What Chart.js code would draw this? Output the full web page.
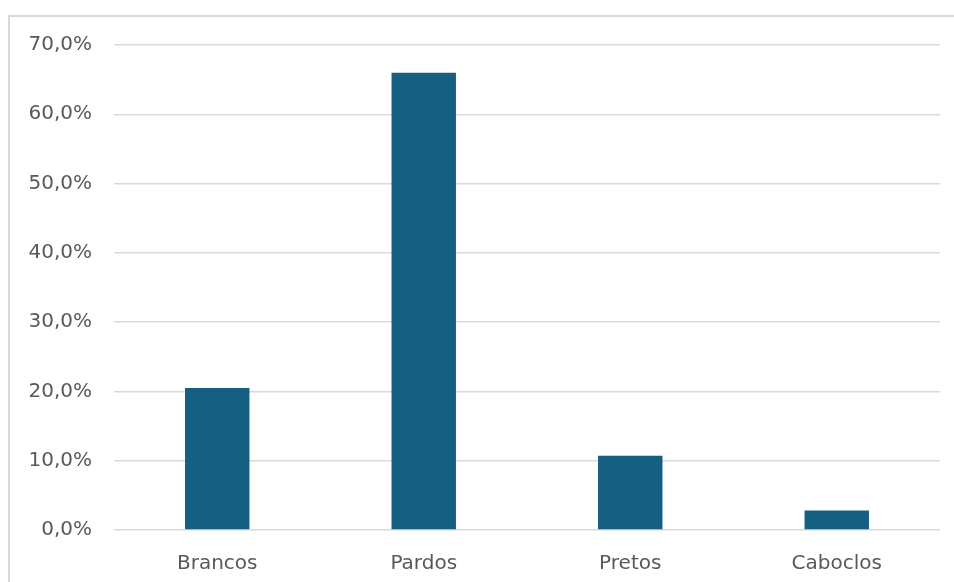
<!DOCTYPE html>
<html>
<head>
<meta charset="utf-8">
<script src="https://cdn.jsdelivr.net/npm/chart.js@4"></script>
<style>
  html, body { margin: 0; padding: 0; background: #fff; overflow: hidden; }
  body { width: 954px; height: 582px; position: relative; }
  .edge { position: absolute; background: #d9d9d9; }
  .edge.top { left: 8px; top: 15px; width: 946px; height: 2px; }
  .edge.left { left: 8px; top: 15px; width: 2px; height: 567px; }
  #chart { position: absolute; left: 0; top: 0; }
</style>
</head>
<body>
<div class="edge top"></div>
<div class="edge left"></div>
<canvas id="chart" width="954" height="582"></canvas>
<script>
// categorias e valores (%)
const categories = ['Brancos', 'Pardos', 'Pretos', 'Caboclos'];
const values = [20.5, 66.0, 10.7, 2.8];
const yTicks = [0, 10, 20, 30, 40, 50, 60, 70];

const textColor = '#595959';
const gridColor = '#d9d9d9';
const barColor = '#156082';

const ctx = document.getElementById('chart').getContext('2d');
new Chart(ctx, {
  type: 'bar',
  data: {
    labels: categories,
    datasets: [{
      data: values,
      backgroundColor: barColor,
      categoryPercentage: 1,
      barPercentage: 0.312
    }]
  },
  options: {
    responsive: false,
    animation: false,
    layout: { padding: { top: 45, right: 14, left: 0, bottom: 0 } },
    plugins: { legend: { display: false }, tooltip: { enabled: false } },
    scales: {
      x: {
        grid: { display: false },
        border: { display: false },
        ticks: { color: textColor, font: { family: 'DejaVu Sans', size: 20 }, padding: 14 },
        afterFit: (s) => { s.height = 52; }
      },
      y: {
        min: 0,
        max: 70,
        afterBuildTicks: (s) => { s.ticks = yTicks.map(v => ({ value: v })); },
        grid: { color: gridColor, lineWidth: 1.5, drawTicks: false },
        border: { display: false },
        ticks: {
          color: textColor,
          font: { family: 'DejaVu Sans', size: 20 },
          padding: 22,
          callback: (v) => v.toFixed(1).replace('.', ',') + '%'
        },
        afterFit: (s) => { s.width = 114; }
      }
    }
  }
});
</script>
</body>
</html>
